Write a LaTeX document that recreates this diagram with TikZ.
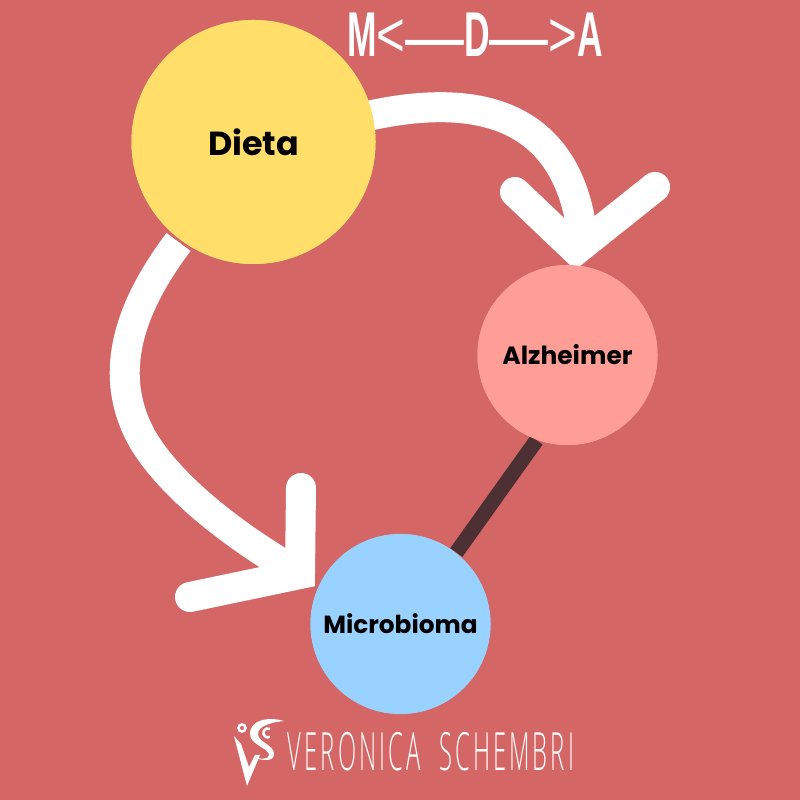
\documentclass[tikz,border=0pt]{standalone}
\usepackage{fontspec}
\setmainfont{Poppins}
\newfontfamily\titlefont{Liberation Sans}
\newfontfamily\signfont[LetterSpace=13]{Open Sans Light}
\usetikzlibrary{calc}
\definecolor{bgred}{HTML}{D56666}
\definecolor{dietacol}{HTML}{FFDE69}
\definecolor{alzcol}{HTML}{FF9E97}
\definecolor{microcol}{HTML}{99D2FF}
\definecolor{linkcol}{HTML}{4D3033}
\tikzset{
	bubble/.style={circle, inner sep=0pt, font=\bfseries},
	whitearrow/.style={line width=3mm, color=white, line cap=round, line join=miter},
}

\begin{document}
\begin{tikzpicture}
			%%%%% START %%%%%
			
			\fill[bgred] (0, 0) rectangle (8, 8);
			\useasboundingbox (0, 0) rectangle (8, 8);
			
			\coordinate (tipA) at (5.76, 5.50);
			\coordinate (tipM) at (3.00, 2.26);
			
			\node[bubble, fill=dietacol, minimum size=24.4mm] (dieta) at (2.535, 6.58) {};
			\node[bubble, fill=alzcol, minimum size=18mm] (alz) at (5.675, 4.45) {};
			\node[bubble, fill=microcol, minimum size=18mm] (micro) at (4.005, 1.76) {};
			
			\draw[whitearrow, line cap=butt] (dieta) ++(1.1, 0.25) .. controls (4.8, 7.1) and (5.7, 6.85) .. ($(tipA)+(0.07, 0.1)$);
			\draw[whitearrow] (5.15, 6.08) -- (tipA) -- (6.55, 6.13);
			
			\draw[whitearrow, line cap=butt] (dieta) ++(-0.75, -1.0) .. controls (1.35, 5.0) and (1.03, 4.3) .. (1.43, 3.6) .. controls (1.73, 3.1) and (2.4, 2.6) .. (tipM);
			\draw[whitearrow] (1.90, 2.03) -- (tipM) -- (3.01, 3.12);
			
			\draw[linkcol, line width=1.5mm] (alz.-110) -- (micro.52);
			
			\node[bubble, fill=dietacol, minimum size=24.4mm] at (dieta) {\fontsize{9.5}{12}\selectfont Dieta};
			\node[bubble, fill=alzcol, minimum size=18mm] at (alz) {\fontsize{7.1}{10}\selectfont Alzheimer};
			\node[bubble, fill=microcol, minimum size=18mm] at (micro) {\fontsize{7.05}{10}\selectfont Microbioma};
			
			\node[white, inner sep=0pt] (title) at (4.75, 7.65) {\fontsize{18}{20}\selectfont\titlefont\scalebox{0.56}[1]{\bfseries M}\scalebox{0.78}[1]{<}\scalebox{0.93}[0.8]{\bfseries\char"2014}\scalebox{0.56}[1]{\bfseries D}\scalebox{0.93}[0.8]{\bfseries\char"2014}\scalebox{0.78}[1]{>}\scalebox{0.56}[1]{\bfseries A}};
			
			% logo
			\fill[white] (2.34, 0.64) -- (2.47, 0.14) -- (2.60, 0.45) -- (2.55, 0.45) -- (2.49, 0.33) -- (2.41, 0.56) -- cycle;
			\draw[white, line width=0.25mm] (2.42, 0.72) circle (0.035);
			\fill[white] (2.84, 0.79) .. controls (2.72, 0.83) and (2.50, 0.82) .. (2.50, 0.66) .. controls (2.50, 0.55) and (2.69, 0.52) .. (2.69, 0.45) .. controls (2.69, 0.40) and (2.60, 0.41) .. (2.53, 0.43) .. controls (2.62, 0.39) and (2.74, 0.38) .. (2.74, 0.46) .. controls (2.74, 0.55) and (2.58, 0.58) .. (2.58, 0.66) .. controls (2.58, 0.75) and (2.74, 0.78) .. cycle;
			\draw[white, line width=0.25mm] (2.70, 0.71) arc (60:300:0.045);
			
			\node[white, inner sep=0pt] (sign) at (4.31, 0.48) {\scalebox{0.45}[1]{\fontsize{15}{18}\selectfont\signfont VERONICA\hspace{0.4em} SCHEMBRI}};
			
			%%%%% END %%%%%
		\end{tikzpicture}
\end{document}
